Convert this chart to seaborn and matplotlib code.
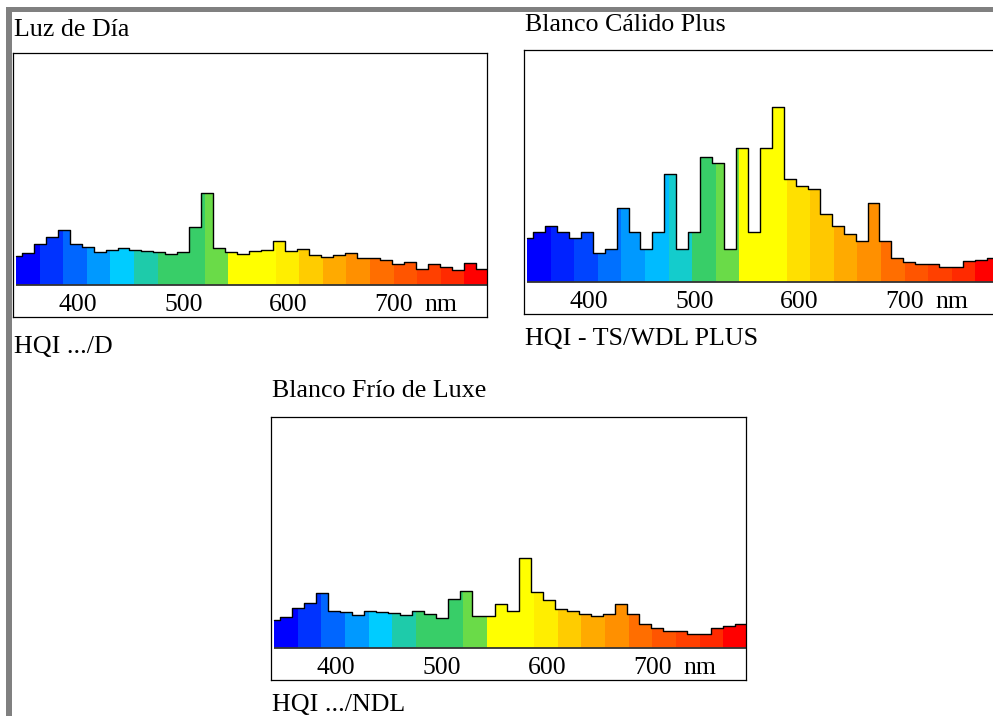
import numpy as np
import pandas as pd
import matplotlib
matplotlib.use("Agg")
import matplotlib.pyplot as plt
import seaborn as sns
from matplotlib.patches import Rectangle

# Relative spectral power of the three lamps (40 steps)
luz_dia = [29, 31.7, 41, 48.3, 55, 40.7, 38.3, 33.3, 35, 36.7,
           35, 34.3, 33, 31, 33.3, 57.7, 91.7, 36.7, 33.3, 31,
           34, 35, 44.3, 34.3, 36, 29.7, 27.7, 29.7, 31.7, 27.3,
           27.3, 24.7, 20.7, 23.3, 16, 20.7, 18, 15.3, 22.3, 15.7]
calido_plus = [44.3, 50, 55.7, 50, 44.3, 50, 28.7, 33.3, 74, 50,
               33.3, 50, 108.3, 33.3, 50, 125.7, 119.3, 32.7, 134.7, 50,
               134.3, 175.3, 103.3, 96.7, 93.3, 67.7, 55.7, 47.7, 41, 79,
               41, 24.3, 20.3, 17.7, 17.7, 15, 15, 20.7, 22.3, 24.3]
frio_luxe = [28.3, 31, 40.3, 45.7, 55, 37.7, 36, 33, 37.7, 36.7,
             35, 33, 37, 34.3, 30.3, 49.7, 58, 32.3, 32.3, 44.3,
             37.7, 91, 56.7, 48.3, 39.7, 37.7, 34.3, 32, 34.3, 44,
             34.3, 24, 20.3, 17.3, 17.3, 14.7, 14.7, 20.7, 22.3, 24]

# colour bands under the curve, violet -> red
colors_std = ["#0000FF", "#0033FF", "#0066FF", "#0099FF", "#00CCFF",
              "#1ECBAA", "#38CE68", "#38CE68", "#6ADB48", "#FFFF00",
              "#FFFF00", "#FFEE00", "#FFCC00", "#FFAA00", "#FF9000",
              "#FF6E00", "#FF5500", "#FF4000", "#FF2A00", "#FF0000"]
colors_plus = ["#0000FF", "#0022FF", "#0044FF", "#0070FF", "#0099FF",
               "#00BBFF", "#14CCCC", "#38CE68", "#6ADB48", "#FFFF00",
               "#FFFF00", "#FFE000", "#FFC800", "#FFAA00", "#FF9000",
               "#FF6E00", "#FF5500", "#FF4000", "#FF2A00", "#FF0000"]

tick_nm = [400, 500, 600, 700]
titles = ["Luz de Día", "Blanco Cálido Plus", "Blanco Frío de Luxe"]
models = ["HQI .../D", "HQI - TS/WDL PLUS", "HQI .../NDL"]

# wavelength sampling
wl_start = 341.0
wl_step = 11.35
wl = wl_start + wl_step * np.arange(40)
wl_end = wl_start + wl_step * 39.5
x_lo, x_hi = 338.2, 788.4

W, H = 993, 716

sns.set_style("white")
plt.rcParams["font.family"] = ["Liberation Serif", "DejaVu Serif"]
plt.rcParams["text.color"] = "black"


def draw_spectrum(ax, values, colors):
    x = np.append(wl, wl[-1] + wl_step)
    y = np.append(values, values[-1])
    edges = np.minimum(np.linspace(wl_start, wl_end, len(colors) + 1), x_hi)
    for i, c in enumerate(colors):
        fill = ax.fill_between(x, 0, y, step="mid", color=c, lw=0)
        right = min(edges[i + 1] + 0.4, x_hi)
        clip = Rectangle((edges[i], -1), right - edges[i], 400,
                         transform=ax.transData)
        fill.set_clip_path(clip)
    df = pd.DataFrame({"wl": x, "power": y})
    sns.lineplot(data=df, x="wl", y="power", ax=ax, color="black", lw=1.0,
                 drawstyle="steps-mid")
    ax.hlines(0, wl_start, wl_end, color="#333333", lw=1.3)
    ax.set_xlim(x_lo, x_hi)
    ax.set_ylim(-32, 232.5)
    ax.set_xticks([])
    ax.set_yticks([])
    ax.set(xlabel="", ylabel="")
    for s in ax.spines.values():
        s.set_visible(True)
        s.set_color("black")
        s.set_linewidth(0.9)
    for t in tick_nm:
        ax.text(t, -26, str(t), ha="center", va="baseline", fontsize=18.5,
                color="black")
    ax.text(745, -26, "nm", ha="center", va="baseline", fontsize=18.5,
            color="black")


fig = plt.figure(figsize=(W / 100, H / 100), dpi=100)

# panel boxes in pixels: left, top, right, bottom
boxes = [(13, 52.5, 487, 317), (524, 50, 998, 314), (271, 417, 746, 680)]
spectra = [luz_dia, calido_plus, frio_luxe]
palettes = [colors_std, colors_plus, colors_std]
title_pos = [(14, 36), (525, 31), (272, 397)]
model_pos = [(14, 353), (525, 345), (272, 711)]

for box, vals, cols, tp, mp, title, model in zip(boxes, spectra, palettes,
                                                 title_pos, model_pos, titles, models):
    l, t, r, b = box
    ax = fig.add_axes([l / W, 1 - b / H, (r - l) / W, (b - t) / H])
    draw_spectrum(ax, vals, cols)
    fig.text(tp[0] / W, 1 - tp[1] / H, title, fontsize=18.7, va="baseline",
             color="black")
    fig.text(mp[0] / W, 1 - mp[1] / H, model, fontsize=18.7, va="baseline",
             color="black")

# grey page border on top and left
fig.add_artist(Rectangle((6 / W, 0), 5.7 / W, 1 - 6.7 / H, color="#808080",
                         transform=fig.transFigure, lw=0))
fig.add_artist(Rectangle((6 / W, 1 - 12 / H), 1, 5.3 / H, color="#808080",
                         transform=fig.transFigure, lw=0))

fig.savefig("out.png", dpi=100)
